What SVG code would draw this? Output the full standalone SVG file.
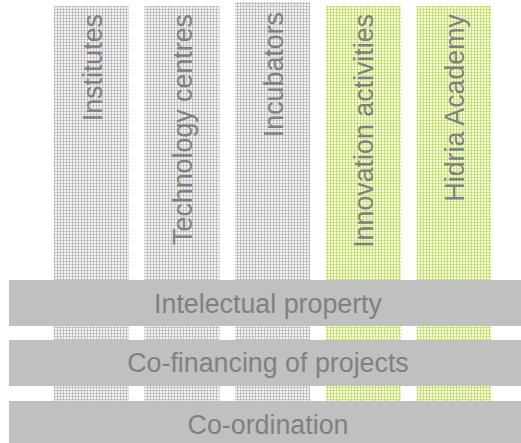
<svg xmlns="http://www.w3.org/2000/svg" width="521" height="443" viewBox="0 0 521 443">
<defs>
<pattern id="pg" width="3" height="3" patternUnits="userSpaceOnUse">
<rect width="3" height="3" fill="#f2f2f2"/>
<rect x="0" y="0" width="1" height="3" fill="#c6c6c6"/>
<rect x="0" y="0" width="3" height="1" fill="#cbcbcb"/>
<rect x="0" y="0" width="1" height="1" fill="#b4b4b4"/>
</pattern>
<pattern id="pgr" width="3" height="3" patternUnits="userSpaceOnUse">
<rect width="3" height="3" fill="#f6fbe6"/>
<rect x="0" y="0" width="1" height="3" fill="#cae57a"/>
<rect x="0" y="0" width="3" height="1" fill="#d2e98a"/>
<rect x="0" y="0" width="1" height="1" fill="#b8dc4c"/>
</pattern>
</defs>
<style>
.col{stroke:none}
.g{fill:url(#pg)}
.gr{fill:url(#pgr)}
.bar{fill:#c0c0c0}
.t{font-family:"Liberation Sans",Arial,sans-serif;font-size:26.8px;fill:#808080}
.vt{text-anchor:end}
.ht{text-anchor:middle}
</style>
<g id="institutes">
<rect class="col g" x="54" y="6" width="75" height="414"/>
<text class="t vt" transform="translate(101.5,14) rotate(-90)">Institutes</text>
</g>
<g id="technology-centres">
<rect class="col g" x="144.5" y="6" width="75" height="414"/>
<text class="t vt" transform="translate(192,14) rotate(-90)">Technology centres</text>
</g>
<g id="incubators">
<rect class="col g" x="235" y="2" width="75" height="418"/>
<text class="t vt" transform="translate(282.5,12) rotate(-90)">Incubators</text>
</g>
<g id="innovation-activities">
<rect class="col gr" x="325.5" y="6" width="75.5" height="414"/>
<text class="t vt" transform="translate(373,14) rotate(-90)">Innovation activities</text>
</g>
<g id="hidria-academy">
<rect class="col gr" x="416.5" y="6" width="75" height="414"/>
<text class="t vt" transform="translate(464,14) rotate(-90)">Hidria Academy</text>
</g>
<g id="intelectual-property">
<rect class="bar" x="9" y="280" width="512" height="46"/>
<text class="t ht" x="268" y="312.5">Intelectual property</text>
</g>
<g id="co-financing">
<rect class="bar" x="9" y="340" width="512" height="46"/>
<text class="t ht" x="268" y="372">Co-financing of projects</text>
</g>
<g id="co-ordination">
<rect class="bar" x="9" y="401" width="512" height="42"/>
<text class="t ht" x="268" y="433.5">Co-ordination</text>
</g>
<g id="connectors"/>
</svg>
